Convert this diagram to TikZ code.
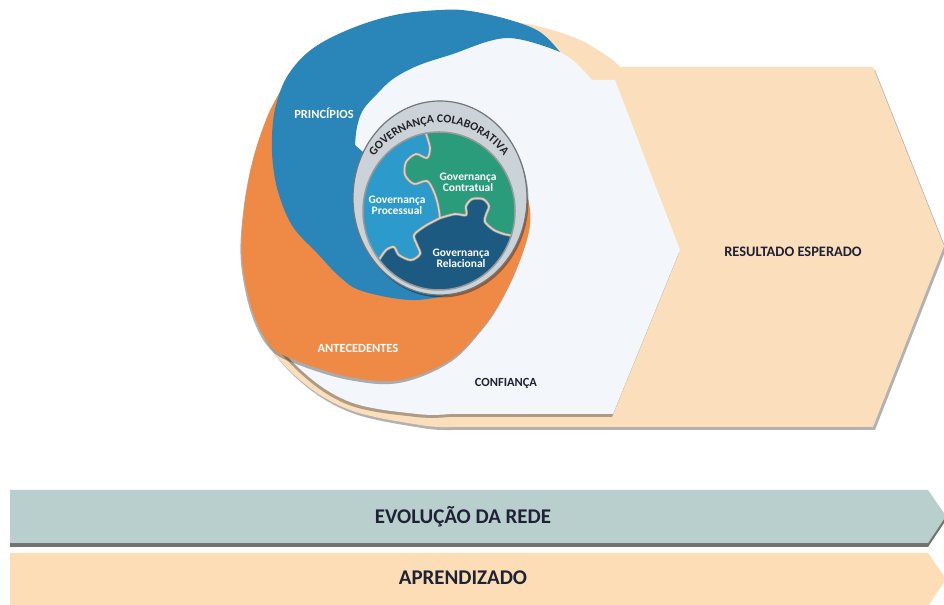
\documentclass[tikz,border=0pt]{standalone}
\usepackage{fontspec}
\setmainfont{Carlito}
\usetikzlibrary{shadows,decorations.text}

\definecolor{peach}{HTML}{FBDFBC}
\definecolor{paper}{HTML}{F3F6FA}
\definecolor{orangeband}{HTML}{EF8A46}
\definecolor{blueband}{HTML}{2A85B9}
\definecolor{ringfill}{HTML}{CBD3D8}
\definecolor{ringline}{HTML}{6E777C}
\definecolor{processual}{HTML}{2C9ACB}
\definecolor{contratual}{HTML}{2A9C7C}
\definecolor{relacional}{HTML}{1C5A82}
\definecolor{seam}{HTML}{D6D2C6}
\definecolor{navy}{HTML}{1E2235}
\definecolor{ringtext}{HTML}{222226}
\definecolor{bargray}{HTML}{B8CFCD}
\definecolor{barpeach}{HTML}{FCDDB5}

\newcommand\ringfont{\fontsize{11.8}{11.8}\selectfont\bfseries}

\begin{document}
\begin{tikzpicture}[x=1bp,y=1bp,
  softshadow/.style={drop shadow={shadow xshift=-1bp, shadow yshift=-3bp, opacity=0.3, fill=black}},
  barshadow/.style={drop shadow={shadow xshift=0bp, shadow yshift=-4bp, opacity=0.55, fill=black}},
  lbl/.style={font=\fontsize{12.5}{13}\selectfont\bfseries, inner sep=0pt},
  piece/.style={font=\fontsize{11.5}{11}\selectfont\bfseries, text=white, align=center, inner sep=0pt},
  bartext/.style={font=\fontsize{21}{22}\selectfont\bfseries, text=navy, inner sep=0pt},
  seamdark/.style={draw=black!45, line width=3bp, line join=round},
  seamlight/.style={draw=seam, line width=1.6bp, line join=round}]

\useasboundingbox (0,0) rectangle (944,605);
\fill[white] (0,0) rectangle (944,605);

% expected result: round back plate with chevron
\path[fill=peach, drop shadow={shadow xshift=2bp, shadow yshift=-3bp, opacity=0.3, fill=black}]
  (620,538) -- (873,538) -- (944,359) -- (873,178) -- (450,178)
  -- plot[smooth, tension=0.6] coordinates {(450,178) (420,180) (350,195) (300,225) (264,268) (252,320) (250,400) (270,480) (320,550) (400,580) (450,583) (515,583) (573,568) (607,549) (620,538)}
  -- cycle;

% trust layer
\path[fill=paper, softshadow]
  (592,525) -- (615,525) -- (680,355) -- (613,191) -- (450,191)
  -- plot[smooth, tension=0.6] coordinates {(450,191) (417,191) (350,203) (300,236) (262,285) (250,350) (256,430) (285,500) (370,572) (450,580) (510,575) (540,565) (560,553) (575,543) (592,525)}
  -- cycle;

% antecedents band
\path[fill=orangeband, softshadow]
  plot[smooth, tension=0.6] coordinates {(283,518) (268,490) (253,445) (244,395) (242,345) (253,292) (272,258) (300,243) (350,228) (400,225) (450,245) (483,278) (503,308) (520,345) (530,380) (527,410) (514,437)}
  -- (440,400) -- (330,450) -- (320,480) -- cycle;

% principles band
\path[fill=blueband]
  plot[smooth, tension=0.6] coordinates {(560,553) (540,573) (510,585) (470,594) (440,595) (395,590) (350,576) (312,556) (288,530) (276,500) (272,470) (273,440) (279,410) (293,378) (317,352) (340,328) (362,314) (410,305) (450,310) (468,315)}
  -- (470,345) -- (400,420) -- (355,460)
  -- plot[smooth, tension=0.6] coordinates {(355,460) (357,478) (363,495) (377,511) (393,526) (417,539) (450,550) (507,567) (560,553)}
  -- cycle;

% collaborative governance ring
\path[fill=ringfill, draw=ringline, line width=1.2bp,
      drop shadow={shadow xshift=1.5bp, shadow yshift=-2.5bp, opacity=0.35, fill=black}]
  (440,407) ellipse [x radius=87bp, y radius=97bp];

% puzzle pieces
\coordinate (T) at ([shift={(439,394)}]100:76bp and 79bp);
\coordinate (R) at ([shift={(439,394)}]-18:76bp and 79bp);
\coordinate (L) at ([shift={(439,394)}]218:76bp and 79bp);
\coordinate (J) at (440,387);

\fill[processual] (439,394) ellipse [x radius=76bp, y radius=79bp];

\fill[contratual] (T) arc[start angle=100, end angle=-18, x radius=76bp, y radius=79bp]
  -- plot[smooth] coordinates {(511.3,369.6) (504,371) (494,375) (485,383) (486,390) (489,399) (483,406) (472,406) (466,399) (466,390) (455,391) (440,387)}
  -- plot[smooth] coordinates {(440,387) (438,400) (434,413) (427,424) (414,421) (405,430) (406,443) (416,451) (427,447) (430,457) (425.8,471.8)}
  -- cycle;

\fill[relacional] (R) arc[start angle=-18, end angle=-142, x radius=76bp, y radius=79bp]
  -- plot[smooth] coordinates {(379.1,345.4) (386,355) (394,358) (399,350) (411,345) (420,351) (417,360) (414,370) (425,379) (440,387)}
  -- plot[smooth] coordinates {(440,387) (455,391) (466,390) (466,399) (472,406) (483,406) (489,399) (486,390) (485,383) (494,375) (504,371) (511.3,369.6)}
  -- cycle;

\foreach \st in {seamdark, seamlight} {
  \draw[\st] plot[smooth] coordinates {(440,387) (438,400) (434,413) (427,424) (414,421) (405,430) (406,443) (416,451) (427,447) (430,457) (425.8,471.8)};
  \draw[\st] plot[smooth] coordinates {(440,387) (455,391) (466,390) (466,399) (472,406) (483,406) (489,399) (486,390) (485,383) (494,375) (504,371) (511.3,369.6)};
  \draw[\st] plot[smooth] coordinates {(440,387) (425,379) (414,370) (417,360) (420,351) (411,345) (399,350) (394,358) (386,355) (379.1,345.4)};
}
\draw[draw=black!40, line width=1.5bp] (439,394) ellipse [x radius=76bp, y radius=79bp];

% ring title
\path[decorate, decoration={text along path, text={|\ringfont|GOVERNANÇA COLABORATIVA}, text align=center, text color=ringtext}]
  ([shift={(439,396)}]160:82bp and 86bp) arc[start angle=160, end angle=20, x radius=82bp, y radius=86bp];

% labels
\node[piece] (processualtxt) at (397,400) {Governança\\Processual};
\node[piece] (contratualtxt) at (468,423) {Governança\\Contratual};
\node[piece] (relacionaltxt) at (461,347) {Governança\\Relacional};

\node[lbl, text=white] (principios) at (324,492) {PRINCÍPIOS};
\node[lbl, text=white] (antecedentes) at (358,257) {ANTECEDENTES};
\node[lbl, text=navy] (confianca) at (506,222) {CONFIANÇA};
\node[lbl, text=navy, font=\fontsize{14.5}{15}\selectfont\bfseries] (resultado) at (793,353) {RESULTADO ESPERADO};

% bottom bars
\path[fill=bargray, barshadow] (10,115) -- (928,115) -- (946,89) -- (928,62) -- (10,62) -- cycle;
\node[bartext] (evolucao) at (463,88) {EVOLUÇÃO DA REDE};

\path[fill=barpeach] (10,52) -- (928,52) -- (946,26) -- (928,-1) -- (10,-1) -- cycle;
\node[bartext] (aprendizado) at (463,27) {APRENDIZADO};

\end{tikzpicture}
\end{document}
